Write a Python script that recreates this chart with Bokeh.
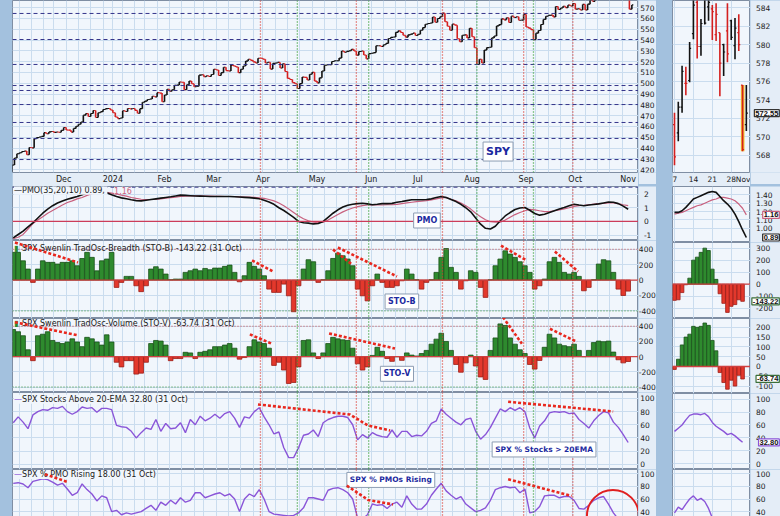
import pandas as pd
from bokeh.plotting import figure
from bokeh.layouts import row, column
from bokeh.models import Range1d, FixedTicker, Span, Label, Spacer
from bokeh.core.properties import value
from bokeh.embed import file_html
from bokeh.resources import INLINE

# ------------------------------------------------------------------ data
holidays = ["2023-11-23", "2023-12-25", "2024-01-01", "2024-01-15", "2024-02-19",
            "2024-03-29", "2024-05-27", "2024-06-19", "2024-07-04", "2024-09-02"]

spy_prev_close = 418.2
spy_close = [
    424.4, 430.8, 434.7, 435.7, 436.9, 437.2, 433.8, 440.6, 440.2, 448.7, 449.7, 450.2, 450.8, 454.3, 453.3, 455.0, 455.3, 454.5, 454.9, 454.6, 456.4,
    459.1, 456.7, 456.6, 454.8, 458.2, 460.2, 462.0, 464.1, 470.5, 472.0, 469.3, 472.0, 474.8, 468.3, 472.7, 473.7, 475.7, 476.5, 476.7, 475.3,
    472.7, 468.8, 467.3, 467.9, 474.6, 473.9, 476.6, 476.3, 476.7, 474.9, 472.3, 476.5, 482.4, 483.5, 484.9, 485.4, 488.0, 487.4, 491.3, 490.9, 482.9,
    489.2, 494.4, 492.6, 494.0, 498.1, 498.3, 501.2, 501.0, 494.1, 498.6, 502.0, 499.5, 496.8, 497.2, 507.5, 507.9, 506.0, 506.9, 506.3, 508.1,
    512.9, 512.3, 507.2, 509.8, 514.8, 511.7, 511.3, 516.8, 516.0, 515.0, 509.8, 512.9, 516.0, 520.5, 522.2, 521.2, 519.8, 518.8, 523.2, 523.1,
    522.2, 518.8, 519.4, 513.1, 518.4, 518.7, 519.3, 514.1, 518.0, 510.9, 504.5, 503.5, 500.6, 499.5, 495.2, 499.7, 505.7, 505.4, 503.0, 508.3, 510.1, 502.0,
    500.4, 505.0, 511.3, 516.6, 517.1, 517.2, 520.2, 520.8, 520.9, 523.3, 529.8, 528.7, 529.5, 530.1, 531.4, 529.8, 526.0, 529.4, 529.8, 526.1, 522.6, 527.4,
    527.8, 528.4, 534.7, 534.7, 534.0, 535.7, 536.9, 541.4, 542.5, 542.8, 547.1, 548.5, 547.0, 544.5, 542.7, 544.8, 545.5, 546.4, 544.2,
    545.3, 549.0, 551.5, 554.6, 555.3, 555.8, 561.3, 556.5, 560.0, 561.5, 564.9, 556.9, 552.7, 549.0, 554.7, 553.8, 541.2, 538.4, 544.4, 544.8, 542.0, 550.8,
    543.0, 532.9, 517.4, 522.2, 518.7, 530.7, 533.0, 533.3, 542.0, 543.8, 553.1, 554.3, 559.6, 558.7, 560.6, 556.2, 562.1, 560.8, 561.6, 558.3, 558.4, 563.7,
    552.1, 551.0, 549.6, 540.4, 546.4, 548.8, 554.4, 559.1, 562.0, 562.8, 563.1, 561.4, 571.0, 568.3, 569.7, 571.3, 570.0, 572.3, 571.5, 573.8,
    568.6, 568.9, 567.8, 573.0, 567.8, 573.2, 577.1, 575.8, 579.6, 584.3, 579.8, 582.3, 582.4, 584.6, 583.6, 583.3, 578.0, 579.2, 579.0, 580.8, 581.8, 580.0, 568.6,
    572.55,
]
price_levels = [564.6, 540.5, 517.4, 497.9, 493.3, 480.3, 463.7, 448.9, 429.4]
month_labels = ["Dec", "2024", "Feb", "Mar", "Apr", "May", "Jun", "Jul", "Aug", "Sep", "Oct", "Nov"]
red_mark_dates = ["2024-03-28", "2024-05-23", "2024-07-16", "2024-08-30", "2024-09-30"]
green_mark_dates = ["2024-04-19", "2024-05-31", "2024-08-05", "2024-09-06"]

# indicator values, one every two trading days
pmo = [-1.2, -0.95, -0.7, -0.4, -0.1, 0.25, 0.6, 0.9, 1.15, 1.35,
       1.5, 1.62, 1.72, 1.82, 1.95, 2.07, 2.15, 2.2, 2.2, 2.1,
       1.95, 1.82, 1.72, 1.65, 1.58, 1.52, 1.5, 1.55, 1.6, 1.65,
       1.7, 1.75, 1.8, 1.86, 1.92, 1.9, 1.88, 1.86, 1.85, 1.84,
       1.82, 1.82, 1.82, 1.82, 1.82, 1.8, 1.78, 1.76, 1.74, 1.7,
       1.66, 1.55, 1.42, 1.25, 1.0, 0.8, 0.55, 0.3, 0.0, -0.1,
       -0.12, -0.18, -0.15, 0.0, 0.3, 0.6, 0.85, 1.05, 1.18, 1.26,
       1.3, 1.33, 1.28, 1.22, 1.25, 1.3, 1.3, 1.32, 1.4, 1.45,
       1.52, 1.58, 1.58, 1.58, 1.6, 1.65, 1.75, 1.82, 1.75, 1.6,
       1.45, 1.25, 1.0, 0.7, 0.25, -0.2, -0.5, -0.55, -0.35, 0.05,
       0.4, 0.65, 0.87, 0.98, 1.02, 0.82, 0.58, 0.46, 0.53, 0.65,
       0.78, 0.9, 1.02, 1.15, 1.26, 1.2, 1.15, 1.2, 1.24, 1.28,
       1.35, 1.42, 1.4, 1.3, 1.12, 0.89]
pmo_signal = [-1.25, -1.15, -0.95, -0.55, -0.15, 0.1, 0.35, 0.6, 0.8, 1.0,
              1.2, 1.38, 1.5, 1.65, 1.75, 1.9, 2.02, 2.07, 2.12, 2.12,
              2.07, 2.0, 1.92, 1.85, 1.75, 1.68, 1.62, 1.6, 1.6, 1.62,
              1.65, 1.7, 1.74, 1.78, 1.83, 1.85, 1.86, 1.86, 1.86, 1.85,
              1.85, 1.84, 1.83, 1.82, 1.82, 1.82, 1.8, 1.78, 1.77, 1.75,
              1.72, 1.68, 1.6, 1.5, 1.35, 1.15, 0.9, 0.65, 0.4, 0.2,
              0.05, -0.05, -0.08, -0.05, 0.1, 0.3, 0.5, 0.7, 0.85, 0.98,
              1.08, 1.15, 1.2, 1.2, 1.2, 1.2, 1.22, 1.22, 1.25, 1.3,
              1.35, 1.4, 1.45, 1.48, 1.52, 1.57, 1.65, 1.72, 1.75, 1.62,
              1.5, 1.35, 1.15, 0.9, 0.6, 0.35, 0.12, -0.02, -0.05, -0.05,
              0.1, 0.3, 0.5, 0.65, 0.78, 0.88, 0.85, 0.78, 0.72, 0.72,
              0.78, 0.85, 0.92, 1.0, 1.1, 1.15, 1.18, 1.22, 1.26, 1.3,
              1.32, 1.35, 1.35, 1.3, 1.22, 1.16]
sto_b = [360, 360, 250, 143, -30, 143, 250, 230, 230, 208,
         230, 230, 250, 186, 280, 360, 295, 120, 250, 273,
         360, -95, -30, 48, 48, -74, -150, -74, 143, 173,
         143, 78, 5, 13, 13, 100, 121, 143, 121, 151,
         134, 156, 156, 178, 195, 100, -22, 56, 230, 178,
         143, 56, -117, -160, -160, -52, -204, -411, -74, 143,
         264, 238, -30, 5, 121, 281, 350, 316, 273, 186,
         -117, -204, -270, -74, 78, -30, -95, -95, -74, -9,
         143, 78, 5, -117, -30, 5, 100, 295, 410, 165,
         100, -117, -9, 121, 100, -95, -225, 5, 186, 273,
         380, 338, 295, 238, 186, 100, -117, -74, 13, 238,
         295, 230, 100, 78, 100, 48, -139, -95, 5, 208,
         264, 250, 100, -117, -200, -143]
sto_v = [357, 328, 275, 90, -53, 275, 295, 328, 213, 185,
         172, 193, 234, 193, 131, 254, 234, 193, 152, 287,
         193, -74, -135, -53, -53, -230, -217, -74, 172, 213,
         205, 152, -53, -25, -25, 57, 49, -25, 57, 70,
         90, 131, 131, 152, 172, 111, -33, -12, 131, 221,
         193, 172, 111, -115, -74, -176, -353, -340, -135, 213,
         221, 49, -25, 49, 172, 254, 234, 221, 213, 111,
         -94, -176, -135, 16, 123, 70, -25, -62, 0, -49,
         49, 20, 8, 41, 82, 164, 230, 308, 200, 82,
         -103, -205, -82, 20, -123, -267, -300, 82, 246, 431,
         410, 246, 164, 90, 41, -103, -164, -50, 123, 295,
         246, 164, 144, 131, 164, 82, 0, 82, 185, 205,
         197, 205, 60, -41, -82, -64]
above_20ema = [63, 72, 64, 54, 75, 80, 83, 82, 86, 85,
               88, 80, 76, 80, 87, 85, 86, 79, 85, 85,
               83, 59, 57, 56, 50, 40, 48, 55, 53, 68,
               50, 62, 54, 55, 63, 48, 68, 60, 73, 66,
               70, 76, 70, 77, 80, 70, 56, 72, 70, 80,
               86, 72, 60, 46, 49, 25, 10, 10, 25, 44,
               46, 52, 42, 63, 68, 71, 73, 73, 71, 60,
               37, 45, 40, 48, 44, 42, 41, 52, 41, 50,
               50, 42, 44, 43, 50, 62, 66, 84, 76, 70,
               64, 60, 68, 70, 50, 38, 45, 56, 70, 84,
               80, 86, 82, 86, 80, 55, 40, 58, 66, 78,
               80, 79, 80, 77, 78, 68, 62, 55, 66, 74,
               80, 78, 64, 56, 45, 33]
pmo_rising = [85, 86, 84, 78, 88, 90, 92, 91, 87, 82,
              85, 76, 66, 70, 84, 75, 68, 57, 65, 62,
              40, 42, 35, 38, 36, 38, 40, 45, 50, 42,
              55, 50, 58, 52, 62, 55, 58, 70, 70, 62,
              65, 68, 70, 65, 68, 60, 40, 60, 68, 64,
              75, 60, 40, 36, 35, 34, 33, 34, 38, 46,
              62, 62, 60, 58, 74, 77, 78, 75, 70, 60,
              30, 28, 35, 52, 50, 51, 45, 52, 55, 47,
              65, 52, 44, 44, 52, 66, 76, 85, 73, 66,
              60, 64, 52, 46, 40, 42, 46, 58, 75, 78,
              80, 78, 79, 70, 76, 38, 40, 48, 65, 66,
              66, 62, 64, 64, 58, 45, 44, 50, 58, 62,
              64, 52, 38, 28, 22, 18]

# right-hand daily panel (Oct 7 .. Nov 1)
r_tick_labels = ["7", "14", "21", "28", "Nov"]
r_prev_close = 573.0
r_open = [571.3, 570.4, 573.2, 575.8, 576.1, 581.2, 584.6, 579.8, 585.9, 584.1, 583.9, 581.1, 581.3, 580.0, 581.5, 582.6, 579.9, 581.3, 575.6, 571.3]
r_high = [572.6, 573.8, 577.7, 577.6, 580.3, 585.3, 584.9, 582.8, 586.1, 585.4, 584.3, 584.5, 581.3, 580.1, 584.5, 582.7, 582.9, 583.3, 575.6, 575.6]
r_low = [566.9, 569.5, 572.6, 574.5, 575.9, 580.6, 578.5, 578.8, 582.2, 582.6, 580.5, 580.4, 574.4, 576.6, 578.1, 580.5, 578.4, 579.3, 568.4, 570.6]
r_close = [567.8, 573.2, 577.1, 575.8, 579.6, 584.3, 579.8, 582.3, 582.35, 584.6, 583.6, 583.3, 578.0, 579.2, 579.0, 580.8, 581.8, 580.0, 568.6, 572.55]
r_pmo = [1.19, 1.19, 1.21, 1.25, 1.30, 1.35, 1.37, 1.39, 1.41, 1.43, 1.44, 1.43, 1.38, 1.33, 1.29, 1.24, 1.17, 1.08, 0.98, 0.89]
r_pmo_signal = [1.17, 1.18, 1.19, 1.21, 1.23, 1.25, 1.27, 1.28, 1.30, 1.32, 1.34, 1.35, 1.37, 1.37, 1.36, 1.35, 1.33, 1.29, 1.24, 1.16]
r_sto_b = [-135, -130, -70, -5, 50, 200, 225, 265, 300, 280, 125, 40, -80, -160, -235, -185, -170, -130, -143]
r_sto_v = [-15, 37, 110, 150, 165, 205, 200, 205, 222, 210, 133, 80, -31, -82, -116, -70, -100, -45, -64]
r_above_20ema = [50, 55, 60, 68, 75, 77, 77, 76, 78, 73, 64, 58, 54, 50, 45, 47, 43, 38, 33]
r_pmo_rising = [38, 47, 43, 52, 60, 65, 58, 61, 56, 45, 30, 24, 20, 16, 20, 24, 22, 20, 18]

# ------------------------------------------------------------------ helpers
dates = pd.bdate_range("2023-11-01", "2024-11-01")
dates = dates[~dates.isin(pd.to_datetime(holidays))]
n = min(len(dates), len(spy_close))
month_start = [i for i in range(1, n) if dates[i].month != dates[i - 1].month]
week_start = [i for i in range(1, n) if dates[i].weekday() < dates[i - 1].weekday()]
date_pos = {d.strftime("%Y-%m-%d"): i for i, d in enumerate(dates[:n])}
red_idx = [date_pos[d] for d in red_mark_dates]
green_idx = [date_pos[d] for d in green_mark_dates]
month_ticks = month_start[:-1] + [month_start[-1] - 1.5]   # keep the last label inside
idx = list(range(len(spy_close)))
x2 = [2 * k + 0.5 for k in range(len(sto_b))]
rx = list(range(len(r_close)))
rx19 = list(range(len(r_sto_b)))

BG = "#a3c1de"
PLOT_BG = "#f1f6fc"
LAB_BG = "#e4edf7"
GRID = "#cadcee"
OUT = "#7f8ea3"
FONT = "DejaVu Sans"
TAGFONT = "Liberation Sans"
GREEN, GREEN_D = "#2e8a2e", "#1b511b"
RED, RED_D = "#e3382c", "#9c1d16"
PURPLE = "#8a55d8"
PINK = "#c8607e"
NAVY = "#1c2aa0"
TREND = "#e8281e"

XL = (0.2, 254.7)
XR = (-0.53, 20.1)
FW_L, FW_R, LW_L, LW_R = 626, 78, 18, 30


def style_axis(ax, size="8px"):
    ax.axis_line_color = None
    ax.major_tick_line_color = None
    ax.minor_tick_line_color = None
    ax.major_tick_out = 0
    ax.major_tick_in = 0
    ax.minor_tick_out = 0
    ax.minor_tick_in = 0
    ax.major_label_standoff = 2
    ax.major_label_text_font = FONT
    ax.major_label_text_font_size = size
    ax.major_label_text_color = "#1a1a1a"


def mk(fw, fh, xr, yr, yticks, bb=0, xaxis=False, xgrid=None):
    p = figure(frame_width=fw, frame_height=fh, x_range=Range1d(*xr), y_range=Range1d(*yr),
               output_backend="svg", toolbar_location=None, y_axis_location=None,
               x_axis_location="below" if xaxis else None,
               min_border_left=0, min_border_right=0, min_border_top=0, min_border_bottom=bb,
               background_fill_color=PLOT_BG, border_fill_color=LAB_BG,
               outline_line_color=OUT, outline_line_width=1)
    p.ygrid.ticker = FixedTicker(ticks=yticks)
    p.xgrid.ticker = FixedTicker(ticks=xgrid or [])
    p.grid.grid_line_color = GRID
    return p


def label_fig(panel, lw, ticks, fmt, tags=(), bb=0, tx=0.1):
    f = figure(frame_width=lw, frame_height=panel.frame_height, x_range=Range1d(0, 1),
               y_range=panel.y_range, output_backend="svg", toolbar_location=None,
               x_axis_location=None, y_axis_location=None, min_border_left=0,
               min_border_right=0, min_border_top=0, min_border_bottom=bb,
               background_fill_color=LAB_BG, border_fill_color=LAB_BG, outline_line_color=None)
    f.grid.visible = False
    f.text(x=[tx] * len(ticks), y=ticks, text=[fmt % t for t in ticks],
           text_font=value(FONT), text_font_size="7.5px", text_color="#1a1a1a",
           text_baseline="middle", text_align="left")
    for y, t, c in tags:
        f.text(x=[0.96], y=[y], text=[t], text_font=value(TAGFONT), text_font_size="7.5px",
               text_font_style="bold", text_color="#111111", text_baseline="middle",
               text_align="right", background_fill_color="white", border_line_color=c,
               border_line_width=1.2, padding=1)
    return f


def marks(p):
    for i in red_idx:
        p.add_layout(Span(location=i, dimension="height", line_color="#d9342b",
                          line_dash="1 2", line_width=1.3))
    for i in green_idx:
        p.add_layout(Span(location=i, dimension="height", line_color="#2d9b2d",
                          line_dash="1 2", line_width=1.3))


def hline(p, y, color, dash="solid", w=1.0):
    p.add_layout(Span(location=y, dimension="width", line_color=color, line_dash=dash, line_width=w))


def trend(p, pts):
    p.line([a for a, b in pts], [b for a, b in pts], line_color=TREND, line_width=2.6,
           line_dash="3 2", level="overlay")


def hist(p, xs, vals, w):
    p.vbar(x=xs, top=vals, bottom=0, width=w,
           fill_color=[GREEN if v >= 0 else RED for v in vals],
           line_color=[GREEN_D if v >= 0 else RED_D for v in vals], line_width=0.8)


def legend(p, x, y, text, color="#1a1a1a", size="8px", bg=True):
    p.add_layout(Label(x=x, y=y, text=text, text_font=FONT, text_font_size=size,
                       text_color=color, text_baseline="middle", text_align="left",
                       background_fill_color=PLOT_BG if bg else None, padding=0))


def box(p, x, y, text, size="8px"):
    p.add_layout(Label(x=x, y=y, text=text, text_font=FONT, text_font_size=size,
                       text_font_style="bold", text_color=NAVY, text_align="center",
                       text_baseline="middle", background_fill_color="white",
                       border_line_color="#8d9db3", padding=3))


# ------------------------------------------------------------------ left column
price_ticks = list(range(420, 580, 10))
p_price = mk(FW_L, 172, XL, (417.4, 576.6), price_ticks, bb=12, xaxis=True, xgrid=week_start)
xa = p_price.xaxis[0]
style_axis(xa)
xa.ticker = FixedTicker(ticks=month_ticks)
xa.major_label_overrides = {m: lab for m, lab in zip(month_ticks, month_labels)}
for lv in price_levels:
    hline(p_price, lv, "#34348a", "4 3", 1.0)
marks(p_price)
opens = [spy_prev_close] + spy_close[:-1]
bar_col = ["#d42020" if c < o else "#111111" for o, c in zip(opens, spy_close)]
p_price.segment(x0=idx, y0=[min(o, c) for o, c in zip(opens, spy_close)], x1=idx,
                y1=[max(o, c) for o, c in zip(opens, spy_close)], line_color=bar_col, line_width=1.6)
p_price.segment(x0=idx, y0=spy_close, x1=[i + 0.6 for i in idx], y1=spy_close,
                line_color=bar_col, line_width=1.1)
p_price.segment(x0=[i - 0.6 for i in idx], y0=opens, x1=idx, y1=opens,
                line_color=bar_col, line_width=1.1)
box(p_price, 197.6, 436.8, "SPY", "11px")
lp_price = label_fig(p_price, LW_L, price_ticks, "%d", bb=12)

pmo_ticks = [-1, 0, 1, 2]
p_pmo = mk(FW_L, 54, XL, (-1.39, 2.55), pmo_ticks, xgrid=week_start)
hline(p_pmo, 0, "#cc3c5a", "solid", 1.2)
hline(p_pmo, 2.5, "#34348a", "4 3", 1.0)
marks(p_pmo)
p_pmo.line(x2, pmo_signal, line_color=PINK, line_width=1.2)
p_pmo.line(x2, pmo, line_color="#111111", line_width=1.6)
legend(p_pmo, 0.8, 2.28, "\u2014")
legend(p_pmo, 4.1, 2.28, "PMO(35,20,10) 0.89, ")
legend(p_pmo, 41.5, 2.28, "1.16", PINK)
box(p_pmo, 168.7, 0.07, "PMO")
lp_pmo = label_fig(p_pmo, LW_L, pmo_ticks, "%d", tx=0.3)

osc_ticks = [-400, -200, 0, 200, 400]
p_stob = mk(FW_L, 78, XL, (-499, 514), osc_ticks, xgrid=week_start)
hist(p_stob, x2, sto_b, 1.9)
hline(p_stob, 0, "#d04040", "solid", 1.3)
hline(p_stob, 400, "#c84848", "1 2", 1.0)
hline(p_stob, -400, "#2d8a2d", "1 2", 1.0)
marks(p_stob)
legend(p_stob, 0.8, 410, "\u25ae", GREEN, bg=False)
legend(p_stob, 4.1, 410, "SPX Swenlin TradOsc-Breadth (STO-B) -143.22 (31 Oct)", bg=False)
for pts in [[(1.2, 488), (26.8, 229)], [(97.6, 255), (106.1, 112)], [(130.5, 397), (138.2, 203)],
            [(132.5, 423), (156.5, 47)], [(198.8, 449), (209.3, 255)], [(220.7, 371), (230.1, 112)]]:
    trend(p_stob, pts)
box(p_stob, 158.5, -278, "STO-B")
lp_stob = label_fig(p_stob, LW_L, osc_ticks, "%d", tx=0.02)

p_stov = mk(FW_L, 74, XL, (-472, 502), osc_ticks, xgrid=week_start)
hist(p_stov, x2, sto_v, 1.9)
hline(p_stov, 0, "#d04040", "solid", 1.3)
hline(p_stov, 400, "#c84848", "1 2", 1.0)
hline(p_stov, -400, "#2d8a2d", "1 2", 1.0)
marks(p_stov)
legend(p_stov, 0.8, 441, "\u25ae", GREEN, bg=False)
legend(p_stov, 4.1, 441, "SPX Swenlin TradOsc-Volume (STO-V) -63.74 (31 Oct)", bg=False)
for pts in [[(1.2, 453), (26.8, 280)], [(96.7, 293), (105.7, 169)], [(128.9, 305), (155.7, 107)],
            [(199.6, 520), (207.3, 170)], [(218.7, 367), (229.7, 194)]]:
    trend(p_stov, pts)
box(p_stov, 156.5, -226, "STO-V")
lp_stov = label_fig(p_stov, LW_L, osc_ticks, "%d", tx=0.02)

pct_ticks = [0, 20, 40, 60, 80, 100]
p_ema = mk(FW_L, 77, XL, (-8.1, 109.1), pct_ticks, xgrid=week_start)
marks(p_ema)
p_ema.line(x2, above_20ema, line_color=PURPLE, line_width=1.4)
legend(p_ema, 0.8, 98.9, "\u2014", PURPLE)
legend(p_ema, 4.1, 98.9, "SPX Stocks Above 20-EMA 32.80 (31 Oct)")
trend(p_ema, [(100, 90.9), (137.4, 75.6), (144.7, 58.9), (153.7, 51.3)])
trend(p_ema, [(201.7, 95), (244.4, 80.2)])
box(p_ema, 216.3, 22.4, "SPX % Stocks > 20EMA", "7.5px")
lp_ema = label_fig(p_ema, LW_L, pct_ticks, "%d", tx=0.1)

rise_ticks = [40, 60, 80, 100]
p_rise = mk(FW_L, 49, XL, (29, 107), rise_ticks, xgrid=week_start)
marks(p_rise)
p_rise.line(x2, pmo_rising, line_color=PURPLE, line_width=1.4)
legend(p_rise, 0.8, 99, "\u2014", PURPLE)
legend(p_rise, 4.1, 99, "SPX % PMO Rising 18.00 (31 Oct)")
trend(p_rise, [(13.4, 99.4), (22.4, 87.4)])
trend(p_rise, [(136.1, 81.4), (144.8, 58.5), (154.9, 51.4)])
trend(p_rise, [(201.7, 91.5), (227.5, 64.9)])
p_rise.scatter(x=[244.3], y=[33], size=52, marker="circle", fill_alpha=0,
               line_color="#e02020", line_width=2)
box(p_rise, 154, 90.4, "SPX % PMOs Rising", "7.5px")
lp_rise = label_fig(p_rise, LW_L, rise_ticks, "%d", tx=0.1)

left_col = column(row(p_price, lp_price), row(p_pmo, lp_pmo), row(p_stob, lp_stob),
                  row(p_stov, lp_stov), row(p_ema, lp_ema), row(p_rise, lp_rise))

# ------------------------------------------------------------------ right column
r_ticks = [0, 5, 10, 15, 18.4]
wk = [0, 5, 10, 15]
rp_ticks = list(range(568, 586, 2))
q_price = mk(FW_R, 172, XR, (566.1, 584.8), rp_ticks, bb=12, xaxis=True, xgrid=wk)
xa = q_price.xaxis[0]
style_axis(xa, "7.5px")
xa.ticker = FixedTicker(ticks=r_ticks)
xa.major_label_overrides = {t: lab for t, lab in zip(r_ticks, r_tick_labels)}
q_price.quad(left=[17.55], right=[18.5], bottom=[r_low[18]], top=[r_high[18]],
             fill_color="#f2c12e", line_color=None)
r_prev = [r_prev_close] + r_close[:-1]
r_col = ["#d42020" if c < pc else "#111111" for pc, c in zip(r_prev, r_close)]
q_price.segment(x0=rx, y0=r_low, x1=rx, y1=r_high, line_color=r_col, line_width=1.6)
q_price.segment(x0=[x - 0.4 for x in rx], y0=r_open, x1=rx, y1=r_open, line_color=r_col, line_width=1.2)
q_price.segment(x0=rx, y0=r_close, x1=[x + 0.4 for x in rx], y1=r_close, line_color=r_col, line_width=1.2)
l_price = label_fig(q_price, LW_R, rp_ticks, "%d", [(572.55, "572.55", "#333333")], bb=12, tx=0.18)

rpmo_ticks = [1.0, 1.1, 1.2, 1.3, 1.4]
q_pmo = mk(FW_R, 56, XR, (0.83, 1.50), rpmo_ticks, xgrid=wk)
q_pmo.line(rx, r_pmo_signal, line_color=PINK, line_width=1.2)
q_pmo.line(rx, r_pmo, line_color="#111111", line_width=1.6)
l_pmo = label_fig(q_pmo, LW_R, rpmo_ticks, "%.2f",
                  [(1.16, "1.16", PINK), (0.89, "0.89", "#222222")], tx=0.18)

rb_ticks = [-200, -100, 0, 100, 200, 300]
q_stob = mk(FW_R, 76, XR, (-286, 347), rb_ticks, xgrid=wk)
hist(q_stob, rx19, r_sto_b, 0.95)
hline(q_stob, 0, "#d04040", "solid", 1.3)
l_stob = label_fig(q_stob, LW_R, rb_ticks, "%d", [(-143.22, "-143.22", "#3a6e3a")], tx=0.18)

rv_ticks = [-100, -50, 0, 50, 100, 150, 200]
q_stov = mk(FW_R, 75, XR, (-138, 245), rv_ticks, xgrid=wk)
hist(q_stov, rx19, r_sto_v, 0.95)
hline(q_stov, 0, "#d04040", "solid", 1.3)
l_stov = label_fig(q_stov, LW_R, rv_ticks, "%d", [(-63.74, "-63.74", "#3a6e3a")], tx=0.18)

q_ema = mk(FW_R, 76, XR, (-9.3, 109), pct_ticks, xgrid=wk)
q_ema.line(rx19, r_above_20ema, line_color=PURPLE, line_width=1.4)
l_ema = label_fig(q_ema, LW_R, pct_ticks, "%d", [(32.80, "32.80", PURPLE)], tx=0.18)

q_rise = mk(FW_R, 49, XR, (29, 107), rise_ticks, xgrid=wk)
q_rise.line(rx19, r_pmo_rising, line_color=PURPLE, line_width=1.4)
l_rise = label_fig(q_rise, LW_R, rise_ticks, "%d", tx=0.18)

right_col = column(row(q_price, l_price), row(q_pmo, l_pmo), row(q_stob, l_stob),
                   row(q_stov, l_stov), row(q_ema, l_ema), row(q_rise, l_rise))

layout = row(Spacer(width=12, height=516, styles={"background-color": BG}),
             left_col,
             Spacer(width=16, height=516, styles={"background-color": BG}),
             right_col,
             styles={"background-color": BG})

open("out.html", "w").write(file_html(layout, INLINE, title="SPY"))
